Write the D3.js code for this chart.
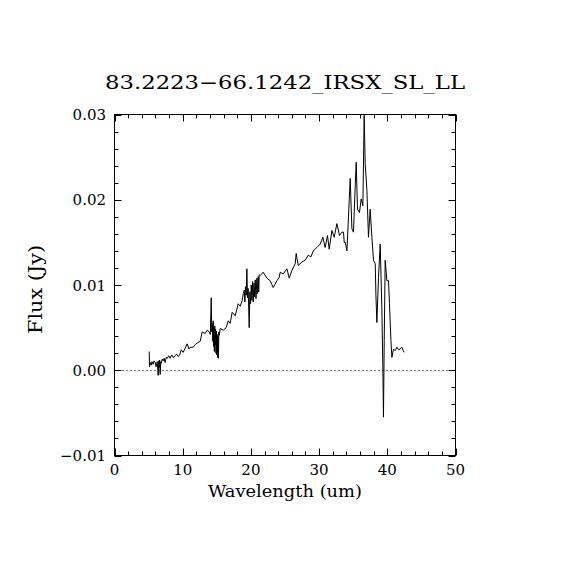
<!DOCTYPE html>
<html>
<head>
<meta charset="utf-8">
<script src="https://cdn.jsdelivr.net/npm/d3@7"></script>
<style>
  html, body { margin: 0; padding: 0; background: #fff; }
  svg { display: block; }
  text { font-family: "DejaVu Serif", serif; fill: #000; }
</style>
</head>
<body>
<svg id="chart" width="570" height="570"></svg>
<script>
const title = "83.2223\u221266.1242_IRSX_SL_LL";
const xLabel = "Wavelength (um)";
const yLabel = "Flux (Jy)";
const xDomain = [0, 50];
const yDomain = [-0.01, 0.03];
const xTicks = [0, 10, 20, 30, 40, 50];
const yTicks = [-0.01, 0.00, 0.01, 0.02, 0.03];
const xTickLabels = ["0", "10", "20", "30", "40", "50"];
const yTickLabels = ["\u22120.01", "0.00", "0.01", "0.02", "0.03"];

const wavelength = [
  5.09, 5.13, 5.25, 5.38, 5.50, 5.67, 5.80, 5.97, 6.10, 6.26, 6.41, 6.48, 6.55, 6.62, 6.70, 6.78, 6.85,
  7.00, 7.14, 7.28, 7.43, 7.58, 7.73, 7.95, 8.17, 8.40, 8.61, 8.90, 9.10, 9.34, 9.55, 9.78,
  10.07, 10.37, 10.66, 10.90, 11.10, 11.54, 11.83, 12.13, 12.57, 12.86, 13.30, 13.59, 13.89,
  14.05, 14.18, 14.26, 14.33, 14.40, 14.47, 14.52, 14.58, 14.64, 14.70, 14.76, 14.82, 14.88, 14.94, 15.00,
  15.06, 15.12, 15.18, 15.24, 15.30, 15.35,
  15.50, 15.94, 16.38, 16.67, 16.95, 17.26, 17.70, 18.14, 18.43, 18.73, 18.88, 19.02, 19.12, 19.22, 19.31,
  19.41, 19.50, 19.60, 19.75, 19.85, 19.95, 20.05, 20.15, 20.25, 20.34, 20.45, 20.55, 20.63, 20.75, 20.88,
  20.98, 21.07, 21.15, 21.22, 21.36, 21.80, 22.35, 22.83, 23.27, 23.81, 24.15,
  24.30, 24.74, 25.28, 25.62, 26.01, 26.50, 26.64, 26.94, 27.48, 27.96, 28.40, 28.80, 29.14, 29.68,
  30.16, 30.56, 30.89, 31.23, 31.48, 31.88, 32.21, 32.61, 32.99, 33.34, 33.58, 33.68, 33.83, 34.08,
  34.31, 34.56, 34.81, 35.04, 35.29, 35.44, 35.63, 35.92, 36.17, 36.42, 36.61, 36.76, 37.01, 37.24,
  37.49, 37.74, 37.98, 38.23, 38.33, 38.47, 38.71, 38.96, 39.21, 39.36, 39.44, 39.55, 39.69, 39.94,
  40.18, 40.32, 40.53, 40.67, 40.91, 41.16, 41.41, 41.67, 41.89, 42.14, 42.33, 42.48
];
const flux = [
  0.0022, 0.0004, 0.0009, 0.0006, 0.0010, 0.0007, 0.0011, 0.0009, 0.0004, 0.0010, -0.0006, 0.0011, 0.0003, 0.0012, -0.0005, 0.0010, 0.0008,
  0.0013, 0.0011, 0.0014, 0.0009, 0.0015, 0.0014, 0.0017, 0.0014, 0.0018, 0.0015, 0.0017, 0.0019, 0.0016, 0.0018, 0.0024,
  0.0021, 0.0026, 0.0031, 0.0025, 0.0027, 0.0027, 0.0030, 0.0032, 0.0034, 0.0045, 0.0043, 0.0047, 0.0045,
  0.0042, 0.0085, 0.0045, 0.0055, 0.0034, 0.0058, 0.0028, 0.0050, 0.0022, 0.0052, 0.0030, 0.0048, 0.0020, 0.0046, 0.0018,
  0.0042, 0.0015, 0.0040, 0.0014, 0.0045, 0.0041,
  0.0049, 0.0047, 0.0050, 0.0058, 0.0055, 0.0068, 0.0064, 0.0078, 0.0075, 0.0082, 0.0090, 0.0094, 0.0080, 0.0098, 0.0088,
  0.0119, 0.0085, 0.0096, 0.0050, 0.0092, 0.0078, 0.0100, 0.0082, 0.0104, 0.0080, 0.0102, 0.0086, 0.0106, 0.0084, 0.0108,
  0.0090, 0.0110, 0.0092, 0.0112, 0.0111, 0.0115, 0.0108, 0.0105, 0.0097, 0.0105, 0.0109,
  0.0115, 0.0113, 0.0119, 0.0108, 0.0117, 0.0125, 0.0137, 0.0123, 0.0127, 0.0129, 0.0135, 0.0133, 0.0140, 0.0144,
  0.0148, 0.0156, 0.0144, 0.0158, 0.0142, 0.0164, 0.0156, 0.0172, 0.0158, 0.0162, 0.0162, 0.0150, 0.0150, 0.0140,
  0.0180, 0.0225, 0.0166, 0.0162, 0.0215, 0.0244, 0.0189, 0.0185, 0.0201, 0.0193, 0.0299, 0.0242, 0.0211, 0.0156,
  0.0189, 0.0156, 0.0129, 0.0125, 0.0088, 0.0056, 0.0109, 0.0148, 0.0070, -0.0004, -0.0055, 0.0035, 0.0129, 0.0105,
  0.0105, 0.0078, 0.0035, 0.0015, 0.0025, 0.0023, 0.0027, 0.0024, 0.0025, 0.0027, 0.0023, 0.0021
];

const svg = d3.select("#chart");
const L = 114.5, R = 455.5, T = 114.5, B = 455.5;
const x = d3.scaleLinear().domain(xDomain).range([L, R]);
const y = d3.scaleLinear().domain(yDomain).range([B, T]);

const xMinor = d3.range(0, 50.001, 2);
const yMinor = d3.range(-0.01, 0.03001, 0.002);
const MAJ = 7, MIN = 4;

// zero line
svg.append("line")
  .attr("x1", L).attr("x2", R)
  .attr("y1", Math.round(y(0)) + 0.5).attr("y2", Math.round(y(0)) + 0.5)
  .attr("stroke", "#000").attr("stroke-width", 1)
  .attr("stroke-dasharray", "1,3");

// spectrum
const pts = wavelength.map((w, i) => [w, flux[i]]);
svg.append("path")
  .datum(pts)
  .attr("fill", "none")
  .attr("stroke", "#000")
  .attr("stroke-width", 1)
  .attr("d", d3.line().x(d => x(d[0])).y(d => y(d[1])));

// frame
svg.append("rect")
  .attr("x", L).attr("y", T).attr("width", R - L).attr("height", B - T)
  .attr("fill", "none").attr("stroke", "#000").attr("stroke-width", 1);

// ticks
const g = svg.append("g").attr("stroke", "#000").attr("stroke-width", 1);
xMinor.forEach(v => {
  const major = Math.abs(v % 10) < 1e-9;
  const len = major ? MAJ : MIN;
  const px = Math.round(x(v)) + 0.5;
  g.append("line").attr("x1", px).attr("x2", px).attr("y1", B).attr("y2", B - len);
  g.append("line").attr("x1", px).attr("x2", px).attr("y1", T).attr("y2", T + len);
});
yMinor.forEach((v, i) => {
  const major = i % 5 === 0;
  const len = major ? MAJ : MIN;
  const py = Math.round(y(v)) + 0.5;
  g.append("line").attr("y1", py).attr("y2", py).attr("x1", L).attr("x2", L + len);
  g.append("line").attr("y1", py).attr("y2", py).attr("x1", R).attr("x2", R - len);
});

// tick labels
svg.append("g").selectAll("text").data(xTicks).join("text")
  .attr("x", d => x(d)).attr("y", 475)
  .attr("text-anchor", "middle")
  .attr("font-size", 15)
  .text((d, i) => xTickLabels[i]);

svg.append("g").selectAll("text").data(yTicks).join("text")
  .attr("x", 106).attr("y", d => y(d) + 5.5)
  .attr("text-anchor", "end")
  .attr("font-size", 15)
  .text((d, i) => yTickLabels[i]);

// axis labels
svg.append("text")
  .attr("x", (L + R) / 2).attr("y", 497)
  .attr("text-anchor", "middle")
  .attr("font-size", 17)
  .attr("textLength", 154).attr("lengthAdjust", "spacingAndGlyphs")
  .text(xLabel);

svg.append("text")
  .attr("transform", "translate(42,289.5) rotate(-90)")
  .attr("text-anchor", "middle")
  .attr("font-size", 18)
  .attr("textLength", 89).attr("lengthAdjust", "spacingAndGlyphs")
  .text(yLabel);

// title
svg.append("text")
  .attr("x", 285).attr("y", 89)
  .attr("text-anchor", "middle")
  .attr("font-size", 19)
  .attr("textLength", 360).attr("lengthAdjust", "spacingAndGlyphs")
  .text(title);
</script>
</body>
</html>
